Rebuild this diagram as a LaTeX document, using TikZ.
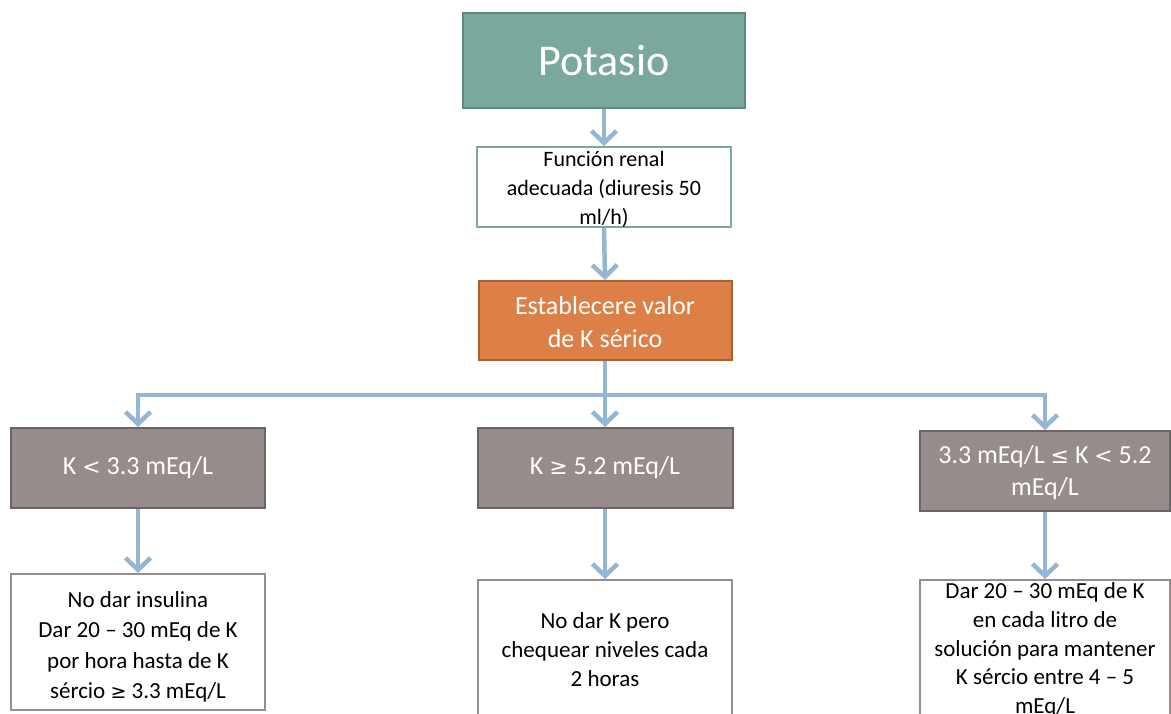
\documentclass[tikz,border=0pt]{standalone}
\usepackage{fontspec}
\setmainfont{Carlito}
\newfontfamily\symfont{DejaVu Sans}
\usetikzlibrary{arrows.meta}
\definecolor{tealfill}{HTML}{7AA89C}
\definecolor{tealline}{HTML}{5F8A7E}
\definecolor{orfill}{HTML}{DD8047}
\definecolor{orline}{HTML}{A95F34}
\definecolor{grfill}{HTML}{968C8C}
\definecolor{grline}{HTML}{6B6565}
\definecolor{arrcol}{HTML}{94B6D2}
\tikzset{
  box/.style={rectangle, inner sep=0pt, line width=2pt},
  topbox/.style={box, fill=tealfill, draw=tealline, line width=2.5pt, text=white},
  renbox/.style={box, fill=white, draw=tealfill},
  orbox/.style={box, fill=orfill, draw=orline, text=white},
  grbox/.style={box, fill=grfill, draw=grline, text=white},
  whbox/.style={box, fill=white, draw=grfill},
  txt/.style={align=center, inner sep=0pt},
  conn/.style={draw=arrcol, line width=4.5pt, -{Straight Barb[length=12pt,width=25pt,line width=4.5pt]}},
}
\begin{document}
\begin{tikzpicture}[x=1pt,y=-1pt]
\useasboundingbox (0,0) rectangle (1171,714);
\clip (0,0) rectangle (1171,714);
% boxes
\node[topbox, minimum width=282pt, minimum height=95pt, font=\fontsize{44}{50}\selectfont] (pot) at (604,60.5) {Potasio};
\node[renbox, minimum width=254pt, minimum height=80pt] (ren) at (604,187) {};
\node[txt, font=\fontsize{22}{29}\selectfont] (rent) at (604,189) {Función renal\\adecuada (diuresis 50\\ml/h)};
\node[orbox, minimum width=253pt, minimum height=79pt] (est) at (605,320.5) {};
\node[txt, text=white, font=\fontsize{26}{33}\selectfont] (estt) at (605,322) {Establecere valor\\de K sérico};
\node[grbox, minimum width=254pt, minimum height=80pt, font=\fontsize{26}{33}\selectfont] (k1) at (138,468) {K {\symfont\fontsize{22}{33}\selectfont<} 3.3 mEq/L};
\node[grbox, minimum width=255pt, minimum height=80pt, font=\fontsize{26}{33}\selectfont] (k2) at (605,468) {K {\symfont\fontsize{22}{33}\selectfont≥} 5.2 mEq/L};
\node[grbox, minimum width=250pt, minimum height=80pt] (k3) at (1045,471) {};
\node[txt, text=white, font=\fontsize{26}{32}\selectfont] (k3t) at (1045,473) {3.3 mEq/L {\symfont\fontsize{22}{32}\selectfont≤} K {\symfont\fontsize{22}{32}\selectfont<} 5.2\\mEq/L};
\node[whbox, minimum width=254pt, minimum height=136pt] (b1) at (138,642) {};
\node[txt, font=\fontsize{23}{30.5}\selectfont] (b1t) at (138,647) {No dar insulina\\Dar 20 – 30 mEq de K\\por hora hasta de K\\sércio {\symfont\fontsize{19}{30}\selectfont≥} 3.3 mEq/L};
\node[whbox, minimum width=254pt, minimum height=140pt] (b2) at (605,650) {};
\node[txt, font=\fontsize{23}{29}\selectfont] (b2t) at (605,650) {No dar K pero\\chequear niveles cada\\2 horas};
\node[whbox, minimum width=250pt, minimum height=142pt] (b3) at (1045,651) {};
\node[txt, font=\fontsize{23}{28.7}\selectfont] (b3t) at (1045,650) {Dar 20 – 30 mEq de K\\en cada litro de\\solución para mantener\\K sércio entre 4 – 5\\mEq/L};
% connectors
\draw[conn] (pot.south) -- (ren.north);
\draw[conn] (ren.south) -- (est.north);
\coordinate (jm) at (605,395);
\draw[conn] (est.south) -- (k2.north);
\draw[conn] (jm) -| (k1.north);
\draw[conn] (jm) -| (k3.north);
\draw[conn] (k1.south) -- (b1.north);
\draw[conn] (k2.south) -- (b2.north);
\draw[conn] (k3.south) -- (b3.north);
\end{tikzpicture}
\end{document}
